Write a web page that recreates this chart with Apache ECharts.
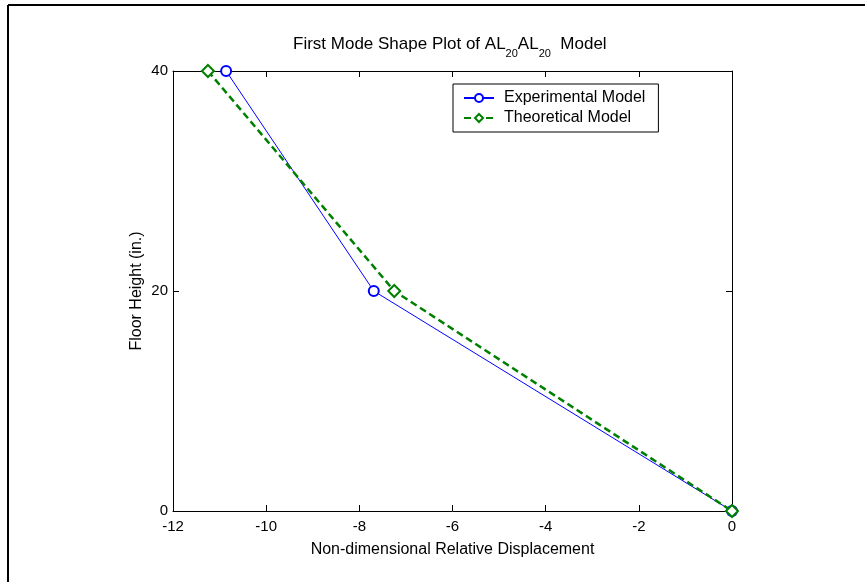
<!DOCTYPE html>
<html>
<head>
<meta charset="utf-8">
<script src="https://cdn.jsdelivr.net/npm/echarts@6/dist/echarts.min.js"></script>
<style>
html,body{margin:0;padding:0;background:#fff;}
#chart{width:865px;height:582px;}
</style>
</head>
<body>
<div id="chart"></div>
<script>
var heights = [40, 20, 0];
var experimental = [-10.86, -7.69, 0];
var theoretical = [-11.25, -7.25, 0];
var seriesNames = ['Experimental Model', 'Theoretical Model'];
var xTicks = { min: -12, max: 0, interval: 2 };
var yTicks = { min: 0, max: 40, interval: 20 };

function pairs(xs, ys) { return xs.map(function (x, i) { return [x, ys[i]]; }); }

var FONT = 'Liberation Sans, Arial, Helvetica, sans-serif';
var chart = echarts.init(document.getElementById('chart'), null, { renderer: 'canvas' });

function xAx(pos, showLabel) {
  return {
    type: 'value', position: pos, min: xTicks.min, max: xTicks.max, interval: xTicks.interval,
    axisLine: { show: true, onZero: false, lineStyle: { color: '#000', width: 1 } },
    axisTick: { show: true, inside: true, length: 6, lineStyle: { color: '#000' } },
    axisLabel: { show: showLabel, color: '#000', fontSize: 15, fontFamily: FONT, margin: 8 },
    splitLine: { show: false },
    name: showLabel ? 'Non-dimensional Relative Displacement' : '',
    nameLocation: 'middle', nameGap: 31,
    nameTextStyle: { color: '#000', fontSize: 16, fontFamily: FONT }
  };
}
function yAx(pos, showLabel) {
  return {
    type: 'value', position: pos, min: yTicks.min, max: yTicks.max, interval: yTicks.interval,
    axisLine: { show: true, onZero: false, lineStyle: { color: '#000', width: 1 } },
    axisTick: { show: true, inside: true, length: 6, lineStyle: { color: '#000' } },
    axisLabel: { show: showLabel, color: '#000', fontSize: 15, fontFamily: FONT, margin: 5 },
    splitLine: { show: false },
    name: showLabel ? 'Floor Height (in.)' : '',
    nameLocation: 'middle', nameGap: 28, nameMoveOverlap: false,
    nameTextStyle: { color: '#000', fontSize: 16, fontFamily: FONT }
  };
}

chart.setOption({
  backgroundColor: '#fff',
  animation: false,
  title: {
    left: 293, top: 36, padding: 0,
    text: '{n|First Mode Shape Plot of AL}{s|20}{n|AL}{s|20}{n|  Model}',
    textStyle: {
      fontWeight: 'normal',
      rich: {
        n: { fontSize: 17, fontWeight: 'normal', fontFamily: FONT, color: '#000', lineHeight: 20, verticalAlign: 'top' },
        s: { fontSize: 11, fontWeight: 'normal', fontFamily: FONT, color: '#000', lineHeight: 12, padding: [12, 0, 0, 0], verticalAlign: 'top' }
      }
    }
  },
  graphic: [
    { type: 'line', shape: { x1: 8, y1: 5, x2: 865, y2: 5 }, style: { stroke: '#000', lineWidth: 2 } },
    { type: 'line', shape: { x1: 8, y1: 5, x2: 8, y2: 582 }, style: { stroke: '#000', lineWidth: 2 } }
  ],
  legend: {
    orient: 'vertical', left: 453, top: 84,
    padding: [5, 13, 5, 10],
    itemWidth: 30, itemHeight: 10, itemGap: 2,
    borderColor: '#000', borderWidth: 1, backgroundColor: '#fff',
    textStyle: { color: '#000', fontSize: 16, fontFamily: FONT, lineHeight: 18, padding: [0, 0, 0, 5] },
    data: seriesNames
  },
  grid: { left: 173, right: 133, top: 71, bottom: 71, containLabel: false },
  xAxis: [xAx('bottom', true), xAx('top', false)],
  yAxis: [yAx('left', true), yAx('right', false)],
  series: [
    {
      name: seriesNames[0], type: 'line', xAxisIndex: 0, yAxisIndex: 0,
      data: pairs(experimental, heights),
      symbol: 'emptyCircle', symbolSize: 10,
      lineStyle: { color: '#0000ff', width: 1 },
      itemStyle: { color: '#0000ff', borderColor: '#0000ff', borderWidth: 1 },
      z: 2
    },
    {
      name: seriesNames[1], type: 'line', xAxisIndex: 0, yAxisIndex: 0,
      data: pairs(theoretical, heights),
      symbol: 'emptyDiamond', symbolSize: 12,
      lineStyle: { color: '#008000', width: 2.5, type: [7, 4] },
      itemStyle: { color: '#008000', borderColor: '#008000', borderWidth: 2 },
      z: 3
    }
  ]
});
</script>
</body>
</html>
